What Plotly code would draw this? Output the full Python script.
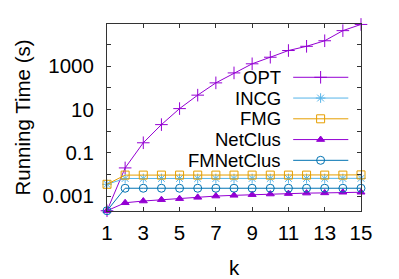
import plotly.graph_objects as go

k = list(range(1, 16))
opt = [2.1e-4, 0.02, 0.29, 2.0, 11, 46, 170, 490, 1290, 2600, 5300, 8300, 15000, 44000, 85000]
incg = [0.0035, 0.0065, 0.0065, 0.0065, 0.0065, 0.0065, 0.0065, 0.0065, 0.0065, 0.0065, 0.0065, 0.0065, 0.0065, 0.0065, 0.0066]
fmg = [0.0035, 0.0093, 0.0093, 0.0093, 0.0093, 0.0093, 0.0093, 0.0093, 0.0093, 0.0093, 0.0093, 0.0093, 0.0093, 0.0093, 0.0095]
netclus = [2.1e-4, 0.00049, 0.00059, 0.00068, 0.00076, 0.00087, 0.001, 0.00108, 0.00116, 0.00124, 0.0013, 0.00137, 0.0014, 0.0015, 0.0015]
fmnetclus = [2.1e-4, 0.0023, 0.0023, 0.0023, 0.0023, 0.0023, 0.0023, 0.0023, 0.0023, 0.0023, 0.0023, 0.0023, 0.0023, 0.0023, 0.0023]

names = ["OPT", "INCG", "FMG", "NetClus", "FMNetClus"]
values = [opt, incg, fmg, netclus, fmnetclus]
colors = ["#9400D3", "#56B4E9", "#E69F00", "#9400D3", "#0072B2"]
symbols = ["cross-thin", "asterisk-open", "square-open", "triangle-up", "circle-open"]
sizes = [9, 8, 8, 7, 8]

ytickvals = [1e-3, 1e-2, 1e-1, 1, 10, 100, 1e3, 1e4]
yticktext = ["0.001", "", "0.1", "", "10", "", "1000", ""]
xtickvals = [1, 3, 5, 7, 9, 11, 13, 15]

FONT = "Liberation Sans, Arial, sans-serif"
FS = 20.5
LFS = 18.5

fig = go.Figure()
for n, v, c, s, sz in zip(names, values, colors, symbols, sizes):
    fig.add_trace(go.Scatter(
        x=k, y=v, mode="lines+markers", name=n,
        line=dict(color=c, width=1),
        marker=dict(symbol=s, size=sz, color=c, line=dict(color=c, width=1)),
        cliponaxis=False, showlegend=False))

# manual gnuplot-style legend (text right, sample left->right)
y0 = 0.715
dy = 0.111
for i, (n, c, s, sz) in enumerate(zip(names, colors, symbols, sizes)):
    yy = y0 - i * dy
    fig.add_shape(type="line", xref="paper", yref="paper", x0=0.733, x1=0.950, y0=yy, y1=yy,
                  line=dict(color=c, width=1))
    fig.add_trace(go.Scatter(x=[0.841], y=[yy], xaxis="x2", yaxis="y2", mode="markers",
                             marker=dict(symbol=s, size=sz, color=c, line=dict(color=c, width=1)),
                             showlegend=False, hoverinfo="skip", cliponaxis=False))
    fig.add_annotation(x=0.688, y=yy, xref="paper", yref="paper", text=n, showarrow=False,
                       xanchor="right", yanchor="middle", height=19, borderpad=0,
                       font=dict(size=LFS, color="black", family=FONT))

axis_common = dict(showline=True, linecolor="#333", linewidth=1, mirror="ticks", automargin=False,
                   ticks="inside", ticklen=4, tickcolor="#333", showgrid=False, zeroline=False)

fig.update_layout(
    width=399, height=279,
    margin=dict(l=107, r=38, t=24, b=68, autoexpand=False),
    paper_bgcolor="white", plot_bgcolor="white",
    font=dict(family=FONT, size=FS, color="black"),
    xaxis=dict(range=[1, 15], tickvals=xtickvals, ticklabelstandoff=3,
               title=dict(text="k", standoff=24, font=dict(size=FS)), **axis_common),
    yaxis=dict(type="log", range=[-3.69, 4.95], tickvals=ytickvals, ticktext=yticktext,
               ticklabelstandoff=8,
               title=dict(text="Running Time (s)", standoff=6, font=dict(size=FS)), **axis_common),
    xaxis2=dict(range=[0, 1], overlaying="x", visible=False),
    yaxis2=dict(range=[0, 1], overlaying="y", visible=False),
)

fig.write_html("out.html", config={"displayModeBar": False},
               post_script="document.body.style.margin='0';document.body.style.overflow='hidden';")
